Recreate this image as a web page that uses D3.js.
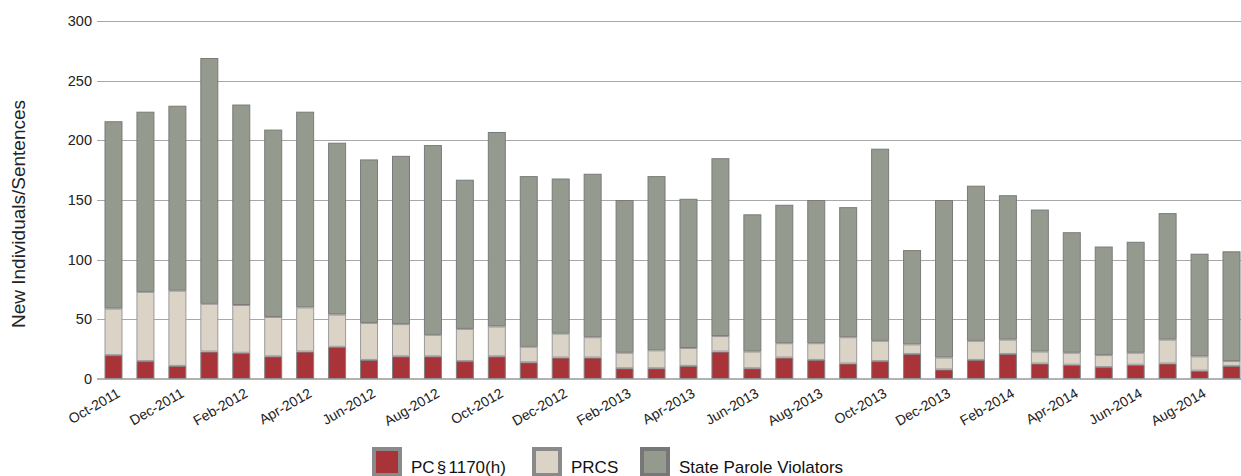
<!DOCTYPE html>
<html>
<head>
<meta charset="utf-8">
<script src="https://cdn.jsdelivr.net/npm/d3@7/dist/d3.min.js"></script>
<style>
  html, body { margin: 0; padding: 0; background: #fff; }
  svg { display: block; font-family: "Liberation Sans", Arial, sans-serif; }
</style>
</head>
<body>
<svg id="chart" width="1241" height="476"></svg>
<script>
// ---- Data ----
const months = ["Oct-2011","Nov-2011","Dec-2011","Jan-2012","Feb-2012","Mar-2012","Apr-2012","May-2012","Jun-2012","Jul-2012","Aug-2012","Sep-2012",
  "Oct-2012","Nov-2012","Dec-2012","Jan-2013","Feb-2013","Mar-2013","Apr-2013","May-2013","Jun-2013","Jul-2013","Aug-2013","Sep-2013",
  "Oct-2013","Nov-2013","Dec-2013","Jan-2014","Feb-2014","Mar-2014","Apr-2014","May-2014","Jun-2014","Jul-2014","Aug-2014","Sep-2014"];
const pc1170h = [20,15,11,23,22,19,23,27,16,19,19,15,19,14,18,18,9,9,11,23,9,18,16,13,15,21,8,16,21,13,12,10,12,13,7,11];
const prcs    = [39,58,63,40,40,33,37,27,31,27,18,27,25,13,20,17,13,15,15,13,14,12,14,22,17,8,10,16,12,10,10,10,10,20,12,4];
const parole  = [157,151,155,206,168,157,164,144,137,141,159,125,163,143,130,137,128,146,125,149,115,116,120,109,161,79,132,130,121,119,101,91,93,106,86,92];
const seriesNames = ["PC § 1170(h)", "PRCS", "State Parole Violators"];
const yTicks = [0, 50, 100, 150, 200, 250, 300];
const yTitle = "New Individuals/Sentences";

// ---- Styles ----
const colors = ["#a8343a", "#dbd3c6", "#959a8f"];
const strokes = ["#808080", "#9a9a9a", "#7a7a7a"];

const svg = d3.select("#chart");
const mLeft = 97, mRight = 1248, mTop = 21, mBottom = 379;

const table = months.map((m, i) => ({ month: m, pc: pc1170h[i], prcs: prcs[i], parole: parole[i] }));
const keys = ["pc", "prcs", "parole"];
const stacked = d3.stack().keys(keys)(table);

const x = d3.scaleBand().domain(months).range([mLeft, mRight]).paddingInner(0.437).paddingOuter(0.235);
const y = d3.scaleLinear().domain([0, 300]).range([mBottom, mTop]);

// gridlines
svg.append("g").selectAll("line").data(yTicks.filter(t => t > 0)).join("line")
  .attr("x1", mLeft).attr("x2", mRight)
  .attr("y1", d => Math.round(y(d)) + 0.5).attr("y2", d => Math.round(y(d)) + 0.5)
  .attr("stroke", "#a8a8a8").attr("stroke-width", 1);

// y axis labels
const yAxis = d3.axisLeft(y).tickValues(yTicks).tickSize(0).tickPadding(5);
const gy = svg.append("g").attr("transform", `translate(${mLeft},0)`).call(yAxis);
gy.select(".domain").remove();
gy.selectAll("text").attr("font-size", "14.5px").attr("fill", "#222").attr("font-family", "Liberation Sans, Arial, sans-serif");

// bars
svg.append("g").selectAll("g").data(stacked).join("g")
  .attr("fill", (d, i) => colors[i]).attr("stroke", (d, i) => strokes[i]).attr("stroke-width", 1)
  .selectAll("rect").data(d => d).join("rect")
  .attr("x", d => x(d.data.month) + 0.5)
  .attr("width", x.bandwidth() - 1)
  .attr("y", d => y(d[1]) + 0.5)
  .attr("height", d => Math.max(0, y(d[0]) - y(d[1]) - 1));

// baseline
svg.append("line").attr("x1", mLeft).attr("x2", mRight).attr("y1", y(0)).attr("y2", y(0))
  .attr("stroke", "#999").attr("stroke-width", 1.5);

// x axis labels
const xAxis = d3.axisBottom(x).tickValues(months.filter((m, i) => i % 2 === 0)).tickSize(0).tickPadding(0);
const gx = svg.append("g").attr("transform", `translate(0,${mBottom})`).call(xAxis);
gx.select(".domain").remove();
gx.selectAll("text")
  .attr("font-size", "14px").attr("fill", "#222").attr("font-family", "Liberation Sans, Arial, sans-serif")
  .attr("text-anchor", "end").attr("dy", null).attr("y", 0)
  .attr("transform", "translate(7.5,17) rotate(-30)");

// y title
svg.append("text").attr("transform", "translate(24.5,214) rotate(-90)")
  .attr("text-anchor", "middle").attr("font-size", "19px").attr("fill", "#222").text(yTitle);

// legend
const legendX = [374, 534, 642];
const lg = svg.append("g").selectAll("g").data(seriesNames).join("g")
  .attr("transform", (d, i) => `translate(${legendX[i]},449)`);
lg.append("rect").attr("width", 26).attr("height", 26)
  .attr("fill", (d, i) => colors[i]).attr("stroke", (d, i) => i === 2 ? "#777" : "#8a8a8a").attr("stroke-width", 4);
lg.append("text").attr("x", 37).attr("y", 23.5).attr("font-size", "17px").attr("fill", "#111")
  .attr("word-spacing", (d, i) => i === 0 ? "-2.5px" : null)
  .text(d => d);
</script>
</body>
</html>
